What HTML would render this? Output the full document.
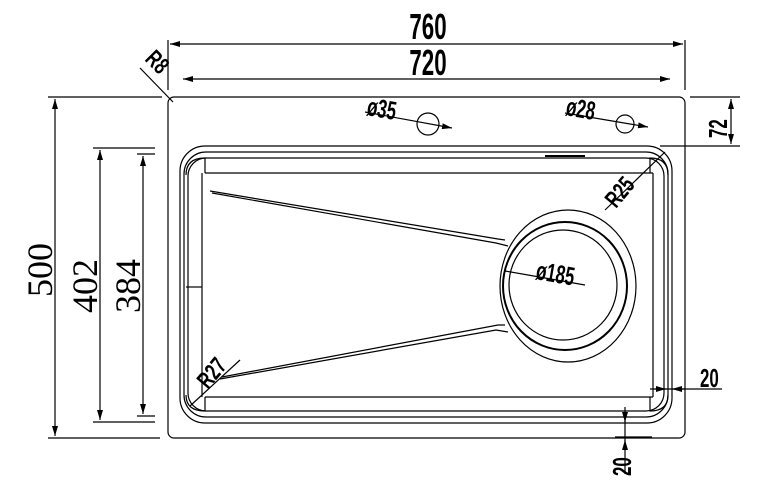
<!DOCTYPE html>
<html><head><style>html,body{margin:0;padding:0;background:#fff;}svg{display:block}</style></head>
<body>
<svg width="768" height="490" viewBox="0 0 768 490" xmlns="http://www.w3.org/2000/svg">
<defs>
<marker id="a" viewBox="0 0 10 6" refX="10" refY="3" markerWidth="10" markerHeight="6" orient="auto-start-reverse" markerUnits="userSpaceOnUse"><path d="M0,0 L10,3 L0,6 z" fill="#000"/></marker>
</defs>
<g fill="none" stroke="#000" stroke-width="1.2">
<rect x="168" y="97" width="517" height="341" rx="6"/>
<line x1="168" y1="40" x2="168" y2="90"/>
<line x1="685" y1="40" x2="685" y2="90"/>
<line x1="170" y1="44" x2="683" y2="44" marker-start="url(#a)" marker-end="url(#a)"/>
<line x1="183" y1="79" x2="670" y2="79" marker-start="url(#a)" marker-end="url(#a)"/>
<line x1="140" y1="68" x2="173" y2="102"/>
<line x1="48" y1="97" x2="162" y2="97"/>
<line x1="48" y1="438" x2="160" y2="438"/>
<line x1="55" y1="99" x2="55" y2="436" marker-start="url(#a)" marker-end="url(#a)"/>
<line x1="93" y1="148" x2="155" y2="148"/>
<line x1="93" y1="422" x2="155" y2="422"/>
<line x1="100" y1="150" x2="100" y2="420" marker-start="url(#a)" marker-end="url(#a)"/>
<line x1="137" y1="154" x2="155" y2="154"/>
<line x1="137" y1="416" x2="155" y2="416"/>
<line x1="143" y1="156" x2="143" y2="414" marker-start="url(#a)" marker-end="url(#a)"/>
<line x1="690" y1="97" x2="740" y2="97"/>
<line x1="660" y1="146" x2="740" y2="146"/>
<line x1="731" y1="99" x2="731" y2="144" marker-start="url(#a)" marker-end="url(#a)"/>
<circle cx="428" cy="124" r="11"/>
<circle cx="625" cy="124" r="9"/>
<line x1="365" y1="112" x2="452" y2="128" marker-end="url(#a)"/>
<line x1="565" y1="113" x2="648" y2="127" marker-end="url(#a)"/>
<rect x="180" y="146" width="492" height="277" rx="25"/>
<rect x="184" y="152" width="484" height="265" rx="22"/>
<rect x="188" y="158" width="476" height="253" rx="18"/>
<line x1="205" y1="173" x2="653" y2="173"/>
<line x1="205" y1="397" x2="653" y2="397"/>
<line x1="202" y1="173" x2="202" y2="397"/>
<line x1="653" y1="173" x2="653" y2="397"/>
<line x1="186" y1="287" x2="202" y2="287"/>
<path d="M186,175 Q186,158 205,158 L205,173"/>
<path d="M668,175 Q668,158 650,158 L650,173"/>
<path d="M186,395 Q186,411 205,411 L205,397"/>
<path d="M668,395 Q668,411 650,411 L650,397"/>
<line x1="545" y1="156" x2="585" y2="156" stroke-width="2"/>
<ellipse cx="568" cy="286" rx="68" ry="76"/>
<ellipse cx="565" cy="286" rx="62" ry="64" stroke-width="2"/>
<ellipse cx="563" cy="285" rx="54" ry="55"/>
<path d="M210,191 L498,239 L505,240"/>
<path d="M212,193 L496,243 L508,246"/>
<path d="M222,377 L498,325 L505,325"/>
<path d="M220,379 L496,330 L508,332"/>
<line x1="505" y1="271" x2="585" y2="285"/>
<line x1="605" y1="210" x2="665" y2="152"/>
<line x1="190" y1="406" x2="240" y2="360"/>
<line x1="650" y1="389" x2="722" y2="389"/>
<line x1="655" y1="389" x2="666" y2="389" marker-end="url(#a)"/>
<line x1="685" y1="389" x2="672" y2="389" marker-end="url(#a)"/>
<line x1="625" y1="407" x2="625" y2="474"/>
<line x1="615" y1="437" x2="652" y2="437"/>
<line x1="625" y1="412" x2="625" y2="422" marker-end="url(#a)"/>
<line x1="625" y1="450" x2="625" y2="440" marker-end="url(#a)"/>
</g>
<g font-family="Liberation Sans, sans-serif" font-weight="bold" fill="#000">
<text x="428" y="39" font-size="36" text-anchor="middle" transform="translate(428 0) scale(0.62 1) translate(-428 0)">760</text>
<text x="428" y="75" font-size="36" text-anchor="middle" transform="translate(428 0) scale(0.62 1) translate(-428 0)">720</text>
<text x="0" y="0" font-size="24" transform="translate(144 60) rotate(45) scale(0.7 1)">R8</text>
<text x="0" y="0" font-size="26" transform="translate(366 115) rotate(10) scale(0.65 1)">ø35</text>
<text x="0" y="0" font-size="26" transform="translate(565 115) rotate(10) scale(0.65 1)">ø28</text>
<text x="0" y="0" font-size="26" transform="translate(535 279) rotate(10) scale(0.65 1)">ø185</text>
<text x="0" y="0" font-size="24" transform="translate(616 209) rotate(-50) scale(0.7 1)">R25</text>
<text x="0" y="0" font-size="24" transform="translate(208 390) rotate(-50) scale(0.7 1)">R27</text>
<text x="0" y="0" font-size="26" transform="translate(727 138) rotate(-90) scale(0.65 1)">72</text>
<text x="700" y="387" font-size="26" transform="translate(700 0) scale(0.65 1) translate(-700 0)">20</text>
<text x="0" y="0" font-size="26" transform="translate(631 476) rotate(-90) scale(0.65 1)">20</text>
</g>
<g font-family="Liberation Serif, serif" fill="#000" font-size="36">
<text transform="translate(52 270) rotate(-90)" text-anchor="middle">500</text>
<text transform="translate(97 286) rotate(-90)" text-anchor="middle">402</text>
<text transform="translate(140 286) rotate(-90)" text-anchor="middle">384</text>
</g>
</svg>
</body></html>
